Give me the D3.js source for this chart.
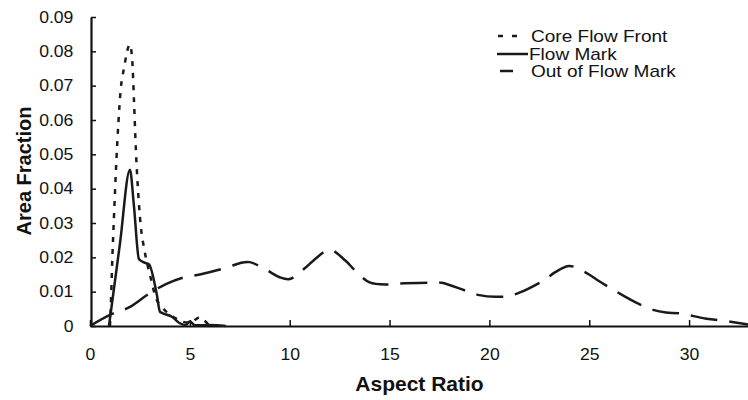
<!DOCTYPE html>
<html>
<head>
<meta charset="utf-8">
<script src="https://cdn.jsdelivr.net/npm/d3@7"></script>
<style>
  body { margin: 0; background: #fff; }
  text { font-family: "Liberation Sans", Arial, sans-serif; fill: #111; }
</style>
</head>
<body>
<div id="chart_div"></div>
<script>
// series (aspect ratio vs area fraction)
var coreX = [1.0, 1.04, 1.12, 1.2, 1.32, 1.42, 1.54, 1.7, 2.0, 2.12, 2.2, 2.3, 2.45, 2.55, 2.7, 2.87, 3.04, 3.29, 3.6, 3.87, 4.3, 4.6, 5.0, 5.5, 5.7, 6.0];
var coreY = [0, 0.0054, 0.02, 0.0317, 0.048, 0.059, 0.069, 0.075, 0.082, 0.077, 0.066, 0.051, 0.0356, 0.0287, 0.0229, 0.018, 0.014, 0.0083, 0.0055, 0.0039, 0.0022, 0.0013, 0.001, 0.0025, 0.0017, 0];

var markX = [0.95, 1.5, 2.0, 2.2, 2.45, 2.7, 2.95, 3.35, 3.5, 3.65, 4.1, 4.5, 4.8, 5.0, 5.25, 6.0, 6.8];
var markY = [0, 0.024, 0.0455, 0.035, 0.0195, 0.0185, 0.018, 0.009, 0.0042, 0.0037, 0.0027, 0.0008, 0.0003, 0.0013, 0.0002, 0.0003, 0];

var outX = [0, 1.1, 1.95, 2.95, 3.8, 4.6, 5.5, 6.9, 7.5, 8.0, 8.9, 9.5, 10.0, 10.75, 11.25, 12.0, 12.8, 13.25, 14.0, 14.9, 15.5, 16.9, 17.6, 18.8, 19.5, 20.3, 20.9, 21.5, 22.75, 23.3, 24.0, 24.85, 25.4, 26.75, 27.35, 28.2, 28.85, 29.5, 30.8, 31.5, 32.8, 33];
var outY = [0, 0.0035, 0.0054, 0.0094, 0.0122, 0.014, 0.015, 0.0171, 0.0183, 0.0186, 0.0161, 0.0142, 0.0137, 0.0168, 0.0194, 0.0222, 0.019, 0.0163, 0.0127, 0.0121, 0.0124, 0.0126, 0.0126, 0.0103, 0.009, 0.0085, 0.0087, 0.0097, 0.0134, 0.0157, 0.0175, 0.0155, 0.0134, 0.0087, 0.0068, 0.0047, 0.0039, 0.0037, 0.0022, 0.0017, 0.0006, 0.0004];

var seriesNames = ['Core Flow Front', 'Flow Mark', 'Out of Flow Mark'];

// ticks
var xTicks = [0, 5, 10, 15, 20, 25, 30];
var yTicks = [0, 0.01, 0.02, 0.03, 0.04, 0.05, 0.06, 0.07, 0.08, 0.09];
var yTickLabels = ['0', '0.01', '0.02', '0.03', '0.04', '0.05', '0.06', '0.07', '0.08', '0.09'];

// set some variables
var svg_width = 748,
  svg_height = 400,
  plot_left = 90,
  plot_right = 749,
  plot_top = 17,
  plot_bottom = 326;

var svg = d3.select('#chart_div')
  .append('svg')
  .attr('width', svg_width)
  .attr('height', svg_height);

var x = d3.scaleLinear()
  .domain([0, 33])
  .range([plot_left, plot_right]);

var y = d3.scaleLinear()
  .domain([0, 0.09])
  .range([plot_bottom, plot_top]);

// axes, ticks point inward
var xAxis = svg.append('g')
  .attr('transform', 'translate(0,' + plot_bottom + ')')
  .call(d3.axisBottom(x)
    .tickValues(xTicks)
    .tickSizeInner(-6)
    .tickSizeOuter(0)
    .tickPadding(23));

var yAxis = svg.append('g')
  .attr('transform', 'translate(' + (plot_left + 1) + ',0)')
  .call(d3.axisLeft(y)
    .tickValues(yTicks)
    .tickFormat(function (d, i) { return yTickLabels[i]; })
    .tickSizeInner(-5)
    .tickSizeOuter(0)
    .tickPadding(16));

[xAxis, yAxis].forEach(function (a) {
  a.select('.domain').attr('stroke', '#111').attr('stroke-width', 2.2);
  a.selectAll('.tick line').attr('stroke', '#111').attr('stroke-width', 1.5);
  a.selectAll('.tick text')
    .style('font-size', '16px')
    .style('font-family', '"Liberation Sans", Arial, sans-serif')
    .attr('fill', '#111')
    .attr('transform', 'scale(1.1,1)');
});

// axis titles
svg.append('text')
  .attr('transform', 'translate(' + ((plot_left + plot_right) / 2) + ',391) scale(1.05,1)')
  .attr('text-anchor', 'middle')
  .attr('style', 'font-size: 20px; font-weight: bold')
  .text('Aspect Ratio');

svg.append('text')
  .attr('transform', 'translate(31,171) rotate(-90)')
  .attr('text-anchor', 'middle')
  .attr('style', 'font-size: 20px; font-weight: bold')
  .text('Area Fraction');

// lines
var styles = [
  { dash: '5,7', curve: d3.curveMonotoneX, xs: coreX, ys: coreY },
  { dash: null, curve: d3.curveMonotoneX, xs: markX, ys: markY },
  { dash: '27,12', curve: d3.curveCatmullRom.alpha(0.5), xs: outX, ys: outY }
];

var plotLayer = svg.append('g').classed('plot-layer', true);

styles.forEach(function (s) {
  var pts = s.xs.map(function (v, i) { return [v, s.ys[i]]; });
  var line = d3.line()
    .x(function (d) { return x(d[0]); })
    .y(function (d) { return y(d[1]); })
    .curve(s.curve);
  plotLayer.append('path')
    .datum(pts)
    .attr('d', line)
    .attr('fill', 'none')
    .attr('stroke', '#1a1a1a')
    .attr('stroke-width', 2.5)
    .attr('stroke-dasharray', s.dash);
});

// legend
var legend = svg.append('g').classed('legend', true);
var legendRows = [
  { y: 36, x1: 498, x2: 517, dash: '5,9' },
  { y: 54, x1: 497, x2: 528, dash: null },
  { y: 71, x1: 500, x2: 513, dash: null }
];
legendRows.forEach(function (r, i) {
  legend.append('line')
    .attr('x1', r.x1).attr('x2', r.x2)
    .attr('y1', r.y).attr('y2', r.y)
    .attr('stroke', '#1a1a1a')
    .attr('stroke-width', 2.5)
    .attr('stroke-dasharray', r.dash);
  legend.append('text')
    .attr('transform', 'translate(' + (i === 1 ? 529 : 531) + ',' + (r.y + 6) + ') scale(1.12,1)')
    .attr('style', 'font-size: 17px')
    .text(seriesNames[i]);
});
</script>
</body>
</html>
